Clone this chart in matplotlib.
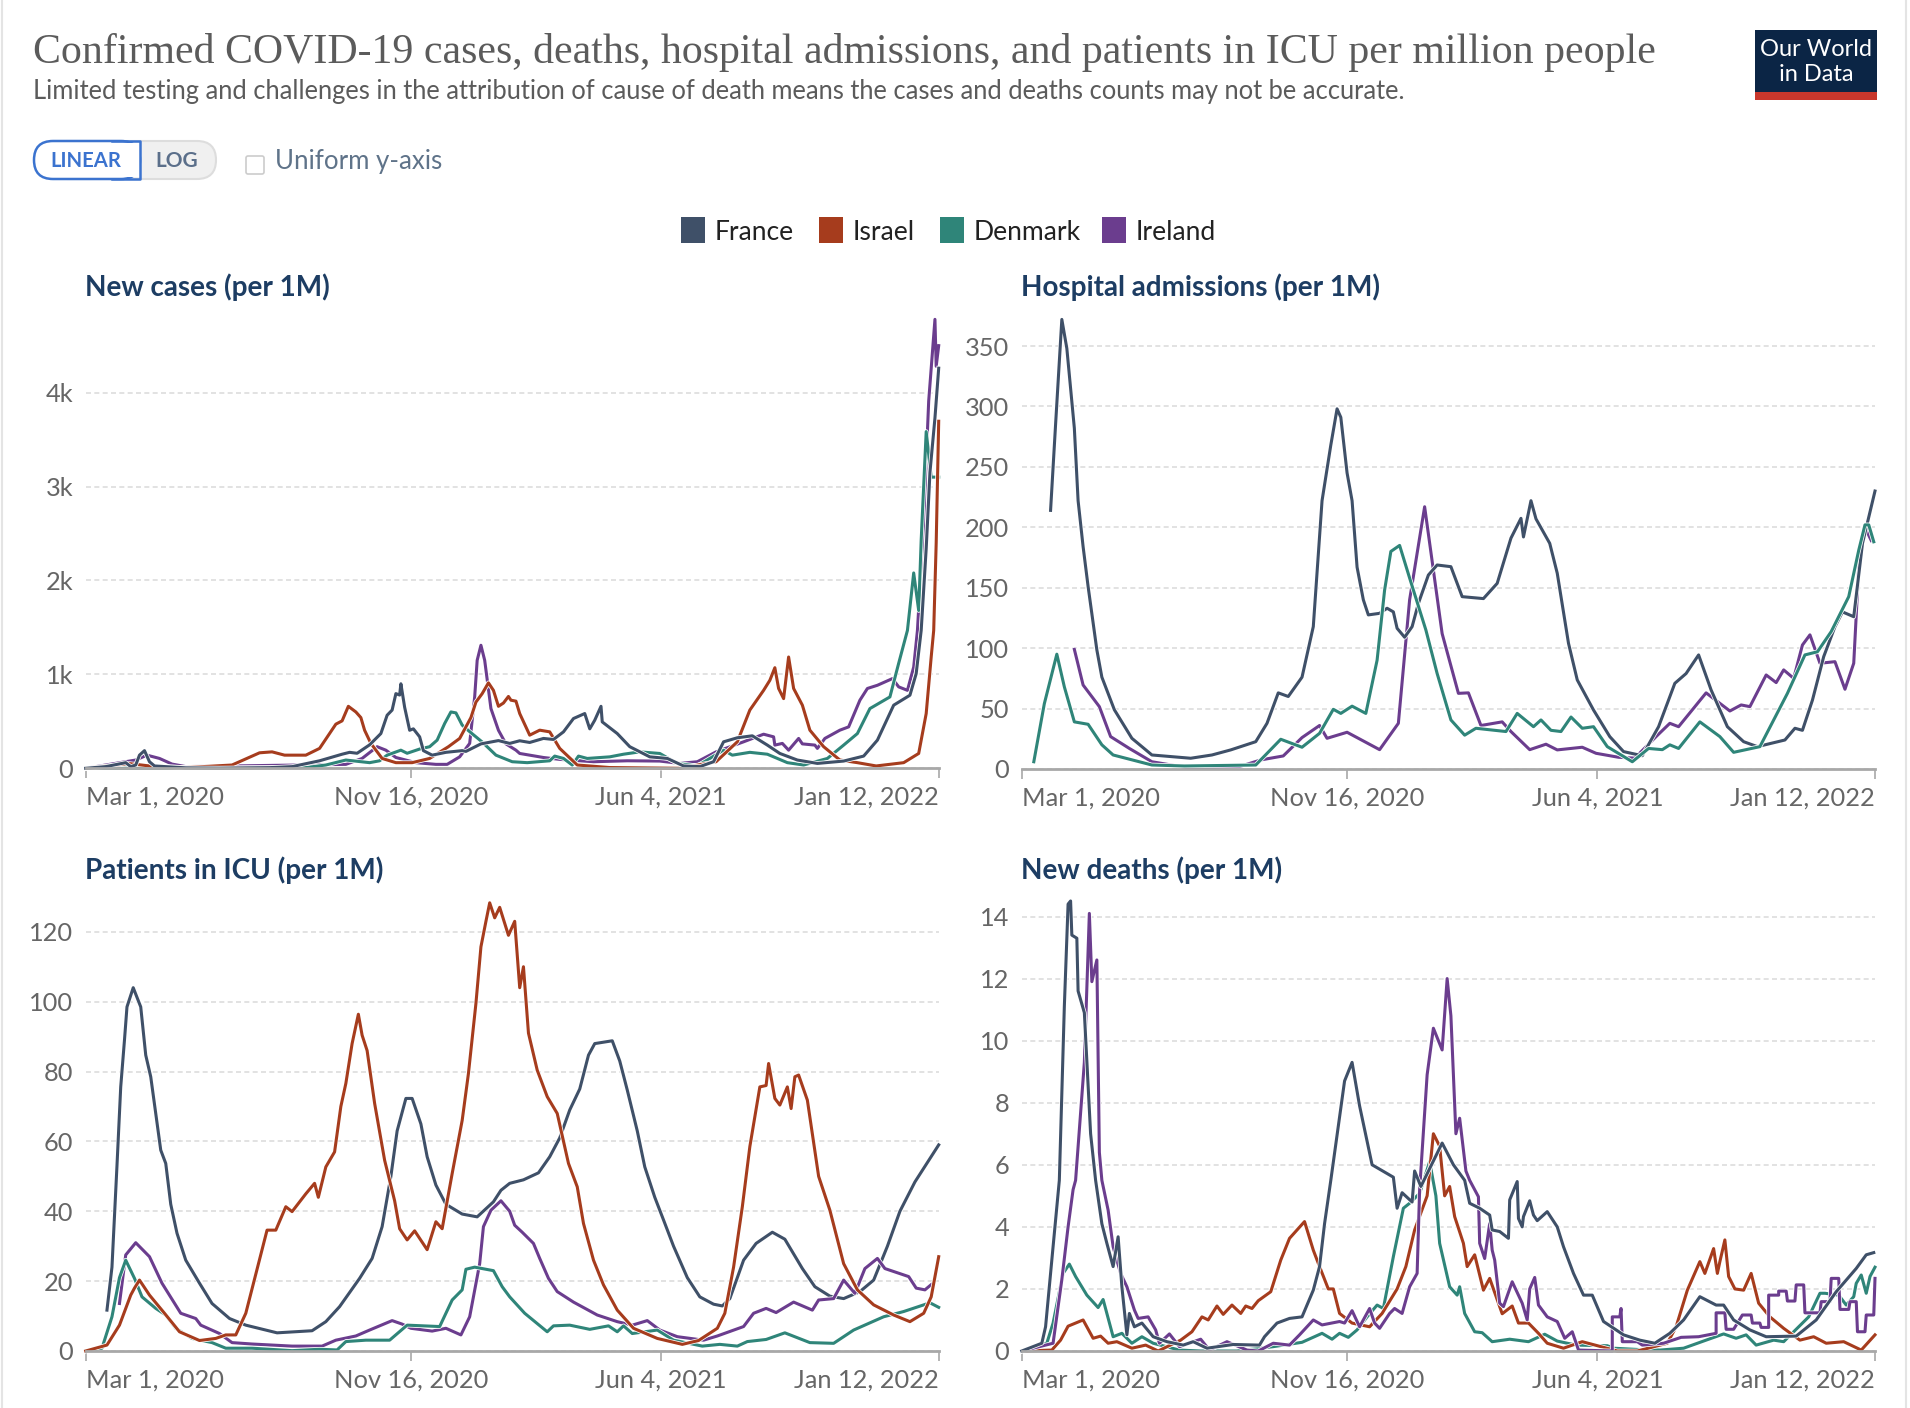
import numpy as np
import pandas as pd
import matplotlib
matplotlib.use('Agg')
import matplotlib.pyplot as plt
import matplotlib.patheffects as pe
from matplotlib.patches import Rectangle, FancyBboxPatch

# New cases (per 1M): days since Mar 1, 2020 / values
cases_france_d = [0,16,32,36,40,43,47,51,55,80,107,147,165,187,205,211,217,227,236,241,245,248,251,252,255,259,262,267,270,277,288,301,304,316,330,339,347,355,366,374,382,390,399,403,407,412,413,425,435,451,465,478,491,502,510,521,533,545,555,569,585,606,622,633,646,659,664,668,672,675,679,682]
cases_france_v = [0,18,60,18,35,140,188,70,25,5,2,7,18,80,150,170,160,250,370,565,620,795,780,900,650,405,420,335,188,140,170,188,180,260,295,265,293,275,318,307,388,530,583,420,512,660,494,370,230,122,105,25,18,70,282,325,346,247,158,88,52,77,130,300,672,778,1008,1468,2340,3150,3730,4260]
cases_israel_d = [0,35,51,80,117,139,149,159,176,187,200,205,210,216,220,223,228,237,248,261,275,290,299,308,312,317,322,326,330,334,338,340,344,347,355,363,371,379,393,419,475,504,521,531,542,547,551,554,558,562,566,573,579,590,603,617,632,654,666,672,676,678,680,682]
cases_israel_v = [0,50,25,8,35,165,175,140,140,212,470,505,660,600,540,405,265,105,60,60,105,230,318,540,705,795,910,830,660,695,765,725,715,583,353,406,388,212,35,8,0,70,282,620,830,937,1071,850,742,1185,850,672,406,230,88,60,25,60,158,583,1185,1468,2400,3695]
cases_denmark_d = [0,176,192,208,227,235,241,252,257,267,275,281,287,292,296,301,307,317,328,341,353,371,375,382,389,394,401,419,430,443,459,473,489,499,510,517,531,545,561,574,593,606,617,627,643,650,657,662,666,668,672,676,682]
cases_denmark_v = [0,8,35,88,60,80,140,193,160,205,230,300,477,600,590,460,390,280,140,70,60,80,130,105,35,130,105,122,150,175,158,52,25,105,193,140,170,150,60,35,105,247,370,636,760,1118,1468,2080,1680,2430,3585,3100,3100]
cases_ireland_d = [0,40,49,59,69,80,208,221,233,240,248,264,280,289,299,307,311,313,316,319,324,330,336,344,347,366,379,406,433,459,475,489,504,526,542,550,551,557,562,570,573,583,585,589,591,603,610,619,625,633,645,650,657,662,665,670,674,679,680,682]
cases_ireland_v = [0,88,140,105,45,18,42,105,230,193,115,60,42,42,122,265,760,1150,1310,1150,636,405,260,193,158,115,95,70,80,77,52,70,175,282,363,335,247,265,193,318,260,247,212,282,318,406,441,725,850,884,955,867,830,1078,1468,2630,3910,4780,4280,4500]

# Hospital admissions (per 1M)
hosp_france_d = [23,27,32,36,42,45,49,53,60,64,74,88,104,135,152,167,187,196,205,213,224,233,240,247,252,255,260,264,268,273,277,286,292,297,300,306,312,317,325,332,343,352,369,380,391,399,401,404,407,411,422,428,437,444,457,470,481,496,509,522,531,541,551,564,577,588,610,618,624,632,641,650,656,665,672,682]
hosp_france_v = [214,285,372,348,282,222,184,151,98.5,76,49,25.4,11.6,8.9,11.6,15.8,22.6,37.8,63,60,76,117.8,222,268,298,291,245,222,167,140,127.5,128.8,133,130,116.4,109,117.8,137,160.5,168.8,167.4,142.6,141,153.6,191,207.4,192,207,222,207,186.7,162,104,73.7,48.8,26.8,14.4,11,35,70.9,79,94.4,65.4,35,22.6,18.5,24,33.7,32,57,93,117.8,130,126,186.7,230]
hosp_denmark_d = [9.6,18,28,34,42,53,64,73,104,130,187,207,224,238,249,255,264,275,284,290,295,302,310,323,332,343,354,363,387,396,409,415,423,431,439,448,457,468,488,501,512,518,525,542,558,569,590,612,626,636,647,661,669,674,677,681]
hosp_denmark_v = [6,54,95,68,39,37,20,11.6,3.3,2.5,3.3,24.6,18,29.5,49.4,46,52,46,90,148,180,185,158,115,79,40.6,28,33.7,31,46,35,40.6,32,31,43,33.7,35,18.5,6,17,16,20,17,39,26.8,13.8,18.5,62.6,94.4,97,113.7,142.6,181,202,202,188]
hosp_ireland_d = [42,49,62,71,86,104,135,174,191,209,224,238,244,260,286,301,310,322,336,349,357,367,384,391,406,419,428,448,459,477,490,507,518,525,547,566,575,582,595,603,609,617,624,630,638,650,658,665,669,674,679]
hosp_ireland_v = [99,69.5,51.6,26.8,17,6,0.6,2,7.5,10.8,26,36,25.4,30.4,16,37.8,140,217,112,62.6,63,36,39,31,16,20.5,15.8,18,13,9.7,9,26.8,37.8,35,63,48,53,51.6,77.8,71.5,82,75,102.6,111,87.5,88.8,66,87.5,167,200,189]

# Patients in ICU (per 1M)
icu_france_d = [17,21,25,28,31,33,38,44,48,52,56,60,64,68,73,80,91,101,115,128,153,181,192,203,219,229,237,244,249,256,261,268,273,280,288,301,313,326,332,339,350,362,371,379,387,395,402,407,421,427,433,441,447,455,462,470,481,491,502,509,515,526,536,549,559,573,583,595,606,619,630,641,651,663,682]
icu_france_v = [11.7,24,53,75.6,89,98.5,104,98.5,84.7,78.5,68,57.5,53.7,42,33.7,26,19.4,13.6,9.3,7.4,5.2,5.8,8.4,12.7,20.8,26.5,35.6,50,63,72.3,72.3,65,55.6,47.5,42,39.2,38.4,42.7,46,48,49,51,55.6,61,69,75,84.7,88,88.8,83,74.7,63,52.7,44,37.5,30,21,15.5,13.4,12.9,15,26,30.8,34,32,23.6,18.4,15.7,15,17,20.3,30,40,48.4,59]
icu_israel_d = [0,17,27,36,39,43,51,63,75,91,104,112,120,128,136,141,145,152,160,165,176,183,186,192,199,204,208,213,218,221,225,231,239,247,251,257,263,273,280,285,293,301,306,312,316,320,323,327,331,338,343,347,350,354,361,369,377,386,393,398,406,414,425,438,457,477,490,505,511,518,525,531,539,544,546,551,555,561,564,567,570,577,586,595,606,617,630,646,659,670,676,682]
icu_israel_v = [0,1.7,7.4,16,18,20.3,16,10.8,5.5,3,3.6,4.6,4.6,10.8,22,29,34.6,34.6,41.3,39.9,45,48,44,52.7,57,70,76.6,88,96.4,90.4,86,70.9,54.6,43,35,31.8,34.4,29,37,35,50.8,66,79.4,99.5,115.7,123,128.3,124,127,119,123,104,110,91,80.4,72.8,68,53.7,47,36.5,26,18.9,11.7,6.5,3.6,1.9,3,6.5,10.8,24,41.3,58.5,75.6,76,82.3,72.3,70.4,75.6,69.4,78.5,79,71.8,50,40.3,25,17.5,13.2,10.3,8.4,10.8,15.5,27]
icu_denmark_d = [0,13,21,27,32,39,45,56,64,72,85,101,112,133,165,187,201,208,224,243,257,283,293,301,304,311,326,333,339,351,369,374,387,403,418,425,430,437,457,470,493,507,521,529,544,559,579,598,614,638,654,675,682]
icu_denmark_v = [0,0.8,9.8,21,26,20.8,15.5,12.2,10.3,6.5,3.6,2.4,0.8,0.8,0.1,0.5,0.3,2.7,3.1,3.1,7.4,7,14.6,17.5,23.4,24,23,18.4,15.5,10.8,5.5,7.2,7.4,6.2,7.2,5.5,7.2,5,6,3.1,1.4,1.9,1.4,2.7,3.3,5.2,2.4,2.2,6,9.8,11.3,13.8,12.5]
icu_ireland_d = [27,32,40,51,61,76,88,92,107,117,133,165,189,200,216,227,245,253,260,277,288,300,307,315,318,324,332,339,343,349,358,363,370,377,390,409,425,437,449,459,473,494,505,526,534,544,552,566,581,586,598,606,615,623,633,639,658,664,671,676]
icu_ireland_v = [13.6,27.5,31,27,19.4,10.8,9.3,7.4,5,2.4,2,1.4,1.4,3.1,4.3,6,8.7,7.7,6.5,5.7,6.5,4.6,9.8,25,35.6,40.3,43,40,36,34,30.8,26.5,20.8,17,14,10.3,8.4,7.4,8.7,6,4.1,3.1,4.3,7,10.8,12.2,11,14,11.7,14.6,15,20.3,16.5,23.6,26.5,23.6,21.3,18,17.5,19]

# New deaths (per 1M)
deaths_france_d = [0,16,19,25,30,34,37,39,40,44,45,50,55,59,64,68,73,77,80,84,86,90,96,105,116,129,137,148,169,190,194,204,214,224,233,238,242,247,258,264,270,280,297,300,304,312,314,319,336,345,354,358,366,374,376,382,389,390,396,397,400,401,406,409,412,420,428,433,441,449,456,465,481,494,506,518,529,542,555,561,569,582,595,619,635,651,667,675,681]
deaths_france_v = [0,0.25,0.78,3.36,5.5,11.1,14.4,14.5,13.4,13.3,11.6,10.9,7,5.5,4.1,3.47,2.72,3.68,2.07,0.52,1.21,0.78,0.9,0.46,0.3,0.19,0.3,0.09,0.21,0.19,0.46,0.9,1.05,1.1,1.96,2.72,4.1,5.5,8.7,9.3,7.9,6,5.6,4.6,5.1,4.8,5.8,5.3,6.7,6,5.5,4.76,4.6,4.38,3.9,3.85,3.63,4.87,5.46,4.27,4,4.33,4.84,4.38,4.2,4.49,4,3.36,2.5,1.8,1.8,0.95,0.52,0.35,0.25,0.57,1,1.75,1.48,1.48,1,0.68,0.46,0.48,1,1.91,2.66,3.1,3.17]
deaths_israel_d = [0,24,31,37,49,57,63,69,76,88,99,109,127,136,144,149,156,161,168,175,179,184,189,199,207,214,226,233,238,245,249,254,264,278,288,300,307,314,324,329,334,338,342,346,353,356,362,369,374,384,392,397,405,413,420,433,448,476,492,516,523,532,542,546,553,556,558,562,565,570,577,583,589,598,609,622,633,643,657,671,682]
deaths_israel_v = [0,0.03,0.35,0.8,1,0.41,0.48,0.25,0.3,0.09,0.19,0,0.35,0.62,1.1,1,1.45,1.18,1.48,1.21,1.45,1.37,1.62,1.91,2.93,3.63,4.17,3.25,2.72,2,2,1.21,0.9,0.78,1.21,2,2.72,3.9,5,7,6.6,5,5.3,4.33,3.47,2.72,3.1,1.96,2.34,1.2,1.45,0.9,0.9,0.57,0.25,0.09,0.3,0,0,0.25,0.78,1.96,2.88,2.5,3.3,2.5,2.88,3.58,2.4,2,1.96,2.5,1.54,1.1,0.73,0.35,0.46,0.25,0.3,0.03,0.52]
deaths_denmark_d = [0,20,25,33,38,43,52,61,65,68,73,80,88,96,105,126,143,172,201,224,240,248,254,261,268,276,284,289,297,305,310,318,326,331,334,342,348,350,354,362,368,376,390,405,418,428,443,468,473,492,510,529,547,561,571,579,587,601,609,617,629,638,642,653,659,665,667,671,675,678,682]
deaths_denmark_v = [0,0.25,0.9,2.5,2.8,2.4,1.8,1.4,1.66,1.21,0.46,0.57,0.25,0.46,0.25,0.03,0,0,0.14,0.28,0.57,0.38,0.57,0.44,0.68,1.1,1.48,1.37,3.04,4.6,4.76,5.08,6.1,5,3.47,2.07,1.8,2.07,1.21,0.62,0.59,0.3,0.38,0.3,0.54,0.32,0.19,0.17,0.09,0.05,0.03,0.09,0.35,0.55,0.41,0.52,0.19,0.35,0.3,0.62,1.1,1.86,1.86,1.8,1.48,1.75,2.18,2.45,1.86,2.4,2.7]
deaths_ireland_d = [0,25,32,37,41,43,50,54,56,60,62,64,69,73,79,84,90,93,101,107,110,118,126,143,150,164,180,189,201,214,222,233,240,254,258,264,270,278,282,286,294,298,304,310,316,318,324,329,336,340,343,347,350,355,358,365,366,370,374,376,378,382,385,392,400,404,406,410,413,420,428,434,440,445,472,472,478,479,480,492,496,513,527,541,555,555,562,563,569,576,583,584,590,591,597,597,605,605,611,612,618,619,625,626,638,639,646,647,653,654,661,662,667,668,674,675,681,682]
deaths_ireland_v = [0,0.25,2.3,4,5.2,5.5,9.3,14.1,11.9,12.6,6.4,5.5,4.54,3.36,2.5,2.07,1.32,1.05,1.1,0.68,0.25,0.55,0.14,0.38,0.03,0.3,0.03,0,0.25,0.19,0.52,1,0.84,0.95,0.9,1.3,0.78,1.37,0.9,0.73,1.21,1.37,1.21,2.07,2.5,5.2,8.9,10.4,9.7,12,10.8,7,7.5,5.8,5.5,4.97,3.47,2.98,4.11,3.25,2.93,1.54,1.43,2.23,1.54,1,2,2.37,1.48,1.1,0.95,0.41,0.62,0.03,0,1.1,1.1,1.37,0.3,0.3,0.19,0.25,0.44,0.46,0.57,1.23,1.23,0.7,0.7,1.16,1.16,0.9,0.9,0.76,0.76,1.8,1.8,1.93,1.93,1.61,1.61,2.13,2.13,1.23,1.23,1.59,1.59,2.34,2.34,1.34,1.34,1.59,1.59,0.62,0.62,1.16,1.16,2.34]

countries = ['France', 'Israel', 'Denmark', 'Ireland']
colors = {'France': '#3f5068', 'Israel': '#a63c1d', 'Denmark': '#2f8579', 'Ireland': '#6b3d8e'}
start = pd.Timestamp('2020-03-01')
tick_dates = pd.to_datetime(['2020-03-01', '2020-11-16', '2021-06-04', '2022-01-12'])
tick_labels = ['Mar 1, 2020', 'Nov 16, 2020', 'Jun 4, 2021', 'Jan 12, 2022']

plt.rcParams['font.family'] = ['Lato', 'DejaVu Sans']
W, H = 1910, 1408
fig = plt.figure(figsize=(W / 100, H / 100), dpi=100, facecolor='white')

# overlay in pixels for the header, controls and legend
bg = fig.add_axes([0, 0, 1, 1])
bg.set_xlim(0, W)
bg.set_ylim(H, 0)
bg.axis('off')
for xb in (2, 1906):
    bg.plot([xb, xb], [0, H], color='#e4e4e4', lw=1.5)

bg.text(33, 52, 'Confirmed COVID-19 cases, deaths, hospital admissions, and patients in ICU per million people',
        family='Liberation Serif', fontsize=30.2, color='#5b5b5b', va='center')
bg.text(33, 92, 'Limited testing and challenges in the attribution of cause of death means the cases and deaths counts may not be accurate.',
        fontsize=18.37, color='#5b5b5b', va='center')

# logo
bg.add_patch(Rectangle((1755, 30), 122, 70, fc='#0b2545', ec='none'))
bg.add_patch(Rectangle((1755, 92), 122, 8, fc='#c9372c', ec='none'))
bg.text(1816, 62, 'Our World\nin Data', color='white', fontsize=17, ha='center', va='center', linespacing=1.2)

# linear / log switch
bg.add_patch(FancyBboxPatch((48, 141), 168, 38, boxstyle='round,pad=0,rounding_size=19', fc='#f0f0f0', ec='#dddddd', lw=1.5))
bg.add_patch(FancyBboxPatch((34, 141), 106, 38, boxstyle='round,pad=0,rounding_size=19', fc='white', ec='#3b73cf', lw=1.8))
bg.add_patch(Rectangle((115, 143), 25, 34, fc='white', ec='none'))
bg.plot([112, 140, 140, 112], [141, 141, 179, 179], color='#3b73cf', lw=1.8)
bg.text(86, 161, 'LINEAR', color='#3b73cf', fontsize=14.6, fontweight='bold', ha='center', va='center')
bg.text(177, 161, 'LOG', color='#5b6f8a', fontsize=15, fontweight='bold', ha='center', va='center')
bg.add_patch(FancyBboxPatch((246, 156), 18, 18, boxstyle='round,pad=0,rounding_size=2', fc='white', ec='#cccccc', lw=1.2))
bg.text(275, 161, 'Uniform y-axis', color='#5f7389', fontsize=18.6, va='center')

# legend
legend_sq = {'France': 681, 'Israel': 819, 'Denmark': 940, 'Ireland': 1102}
for c in countries:
    bg.add_patch(Rectangle((legend_sq[c], 217), 24, 26, fc=colors[c], ec='none'))
    bg.text(legend_sq[c] + 34, 232, c, color='#222222', fontsize=19.1, va='center')

panels = [
    ('New cases (per 1M)', 85.7, 938.7, 768.3, 392.6, 4000, 4780, [0, 1000, 2000, 3000, 4000], ['0', '1k', '2k', '3k', '4k'],
     [('Ireland', cases_ireland_d, cases_ireland_v), ('Denmark', cases_denmark_d, cases_denmark_v),
      ('Israel', cases_israel_d, cases_israel_v), ('France', cases_france_d, cases_france_v)]),
    ('Hospital admissions (per 1M)', 1021.8, 1875, 769, 346, 350, 372, [0, 50, 100, 150, 200, 250, 300, 350], ['0', '50', '100', '150', '200', '250', '300', '350'],
     [('Ireland', hosp_ireland_d, hosp_ireland_v), ('France', hosp_france_d, hosp_france_v), ('Denmark', hosp_denmark_d, hosp_denmark_v)]),
    ('Patients in ICU (per 1M)', 85.7, 938.7, 1351, 931.8, 120, 129, [0, 20, 40, 60, 80, 100, 120], ['0', '20', '40', '60', '80', '100', '120'],
     [('France', icu_france_d, icu_france_v), ('Ireland', icu_ireland_d, icu_ireland_v),
      ('Denmark', icu_denmark_d, icu_denmark_v), ('Israel', icu_israel_d, icu_israel_v)]),
    ('New deaths (per 1M)', 1021.8, 1875, 1351, 916.5, 14, 14.5, [0, 2, 4, 6, 8, 10, 12, 14], ['0', '2', '4', '6', '8', '10', '12', '14'],
     [('Denmark', deaths_denmark_d, deaths_denmark_v), ('Israel', deaths_israel_d, deaths_israel_v),
      ('Ireland', deaths_ireland_d, deaths_ireland_v), ('France', deaths_france_d, deaths_france_v)]),
]

for title, x0, x1, y0, yref, refval, ymax, yticks, ylabels, series in panels:
    top = y0 - (y0 - yref) * ymax / refval
    ax = fig.add_axes([x0 / W, 1 - y0 / H, (x1 - x0) / W, (y0 - top) / H])
    ax.patch.set_alpha(0)
    ax.set_xlim(start, tick_dates[-1])
    ax.set_ylim(0, ymax)
    ax.grid(axis='y', color='#dddddd', ls=(0, (3, 2)), lw=1.2)
    ax.set_axisbelow(True)
    for s in ['top', 'left', 'right']:
        ax.spines[s].set_visible(False)
    ax.spines['bottom'].set_color('#a8a8a8')
    ax.spines['bottom'].set_linewidth(2)
    ax.set_yticks(yticks)
    ax.set_yticklabels(ylabels, fontsize=18.3, color='#666666')
    ax.tick_params(axis='y', length=0, pad=9)
    ax.set_xticks(tick_dates)
    ax.set_xticklabels(tick_labels, fontsize=18.3, color='#666666')
    ax.tick_params(axis='x', length=7, width=1.2, color='#a8a8a8', pad=5.5)
    labs = ax.get_xticklabels()
    labs[0].set_ha('left')
    labs[-1].set_ha('right')
    for name, days, vals in series:
        dates = start + pd.to_timedelta(np.array(days), unit='D')
        ax.plot(dates, vals, color=colors[name], lw=2.2, clip_on=False, solid_joinstyle='round',
                path_effects=[pe.Stroke(linewidth=3.3, foreground='white'), pe.Normal()])
    bg.text(x0 - 0.5, 287 if y0 < 800 else 870, title, color='#1d3d63', fontsize=20.1, fontweight='bold', va='center')

fig.savefig('out.png', dpi=100)
